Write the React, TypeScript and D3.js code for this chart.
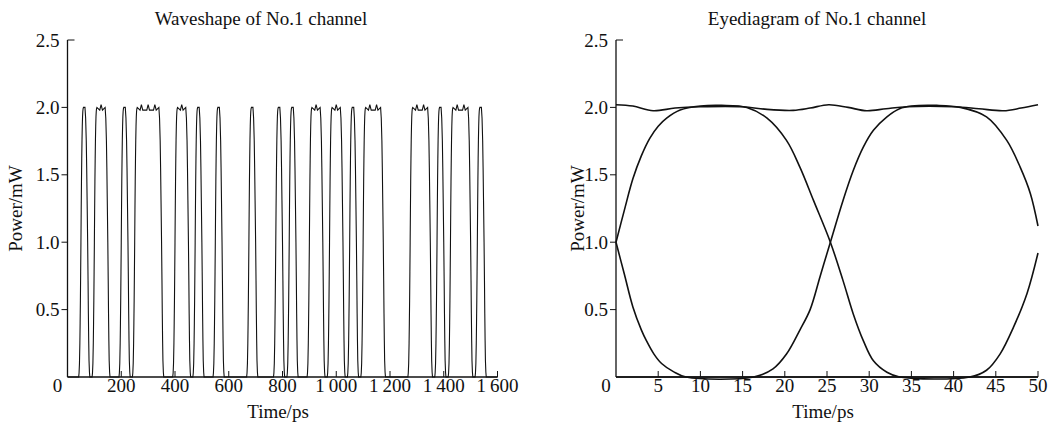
import React from "react";
import * as d3 from "d3";

// channel 1 bit pattern, 25 ps per bit
const bits = [
  0, 0, 1, 0, 1, 1, 0, 0,
  1, 0, 1, 1, 1, 1, 0, 0,
  1, 1, 0, 1, 0, 0, 1, 0,
  0, 0, 0, 1, 0, 0, 0, 1,
  0, 1, 0, 0, 1, 1, 0, 1,
  1, 0, 1, 0, 1, 1, 1, 0,
  0, 0, 0, 1, 1, 1, 0, 1,
  0, 1, 1, 1, 0, 1, 0, 0,
];
const bitPs = 25;

// edge shapes (ps from the bit boundary, mW)
const riseEdge = [[-8.5, 0], [-7, 0.03], [-5.5, 0.1], [-4, 0.25], [-3, 0.4], [-2, 0.57], [-1, 0.78], [0, 1], [1, 1.24], [2, 1.45], [3, 1.62], [4, 1.76], [5, 1.86], [6, 1.93], [7, 1.97], [8, 1.99], [9.5, 2.0]];
const fallEdge = [[-10, 2.0], [-7.5, 1.92], [-5.2, 1.755], [-3.6, 1.555], [-2, 1.31], [0, 1], [1.5, 0.715], [2.7, 0.47], [3.9, 0.27], [5.1, 0.12], [6.7, 0.035], [8.2, 0]];
const highRipple = [[-5, 1.98], [0, 2.02], [5, 1.98]];

// eye diagram traces (ps, mW)
const eyeA = [[0, 1], [1, 1.24], [2, 1.47], [3, 1.64], [4, 1.77], [5, 1.86], [6, 1.92], [7.6, 1.98], [10, 2.01], [12.5, 2.015], [15.5, 2.0], [17.9, 1.92], [20.2, 1.755], [21.8, 1.555], [23.4, 1.31], [25.4, 1.0], [26.9, 0.715], [28.1, 0.47], [29.3, 0.27], [30.5, 0.12], [32.1, 0.035], [33.6, 0], [41.9, 0], [43.9, 0.05], [45.5, 0.17], [47.1, 0.37], [48.7, 0.62], [50, 0.92]];
const eyeB = [[0, 1], [1, 0.76], [2, 0.52], [3, 0.35], [3.6, 0.27], [4.5, 0.17], [5.4, 0.1], [6.8, 0.04], [8.3, 0], [16.3, 0], [18.6, 0.06], [20.2, 0.17], [21.8, 0.35], [23, 0.5], [24.2, 0.75], [25.4, 1.0], [26.9, 1.31], [28.1, 1.53], [29.3, 1.705], [30.5, 1.83], [32.1, 1.93], [33.6, 1.99], [35, 2.01], [38, 2.015], [40.8, 2.0], [43.9, 1.93], [46.3, 1.755], [47.9, 1.555], [49.1, 1.36], [50, 1.12]];
const eyeTop = [[0, 2.02], [2, 2.01], [4.4, 1.975], [7, 1.995], [10, 2.005], [15, 2.005], [17.9, 1.985], [21, 1.978], [23, 1.995], [25.2, 2.02], [27.5, 2.0], [29.7, 1.975], [32, 1.99], [34.5, 2.005], [40, 2.005], [43, 1.99], [45.9, 1.975], [48, 1.995], [50, 2.02]];
const eyeBottom = [[0, 0], [50, 0]];

const waveTicks = [0, 200, 400, 600, 800, 1000, 1200, 1400, 1600];
const eyeTicks = [0, 5, 10, 15, 20, 25, 30, 35, 40, 45, 50];
const powerTicks = [0.5, 1.0, 1.5, 2.0, 2.5];

const font = "'Liberation Serif', 'Times New Roman', serif";
const fs = 19;

// build the time trace from the bits and the edge shapes
function buildWave() {
  const pts: number[][] = [[0, bits[0] ? 2 : 0]];
  for (let k = 1; k < bits.length; k++) {
    const t0 = k * bitPs;
    const a = bits[k - 1], b = bits[k];
    let shape: number[][] = [];
    if (!a && b) shape = riseEdge;
    else if (a && !b) shape = fallEdge;
    else if (a && b) shape = highRipple;
    shape.forEach(([dt, v]) => pts.push([t0 + dt, v]));
  }
  pts.push([bits.length * bitPs, bits[bits.length - 1] ? 2 : 0]);
  return pts;
}

const yScale = d3.scaleLinear().domain([0, 2.5]).range([377, 40]);
const fmt = (d: number) => (d >= 1000 ? d3.format(",")(d).replace(",", "\u2009") : String(d));

function Panel(props: {
  x: d3.ScaleLinear<number, number>;
  ticks: number[];
  title: string;
  titleX: number;
  labelX: number;
  xLabelX: number;
  children: React.ReactNode;
}) {
  const { x, ticks, title, titleX, labelX, xLabelX } = props;
  const [x0, x1] = x.range();
  const y0 = yScale(0), yTopPx = yScale(2.5);
  return (
    <g fontFamily={font} fontSize={fs} fill="#111">
      <text x={titleX} y={25} textAnchor="middle">{title}</text>
      <text transform={`translate(${labelX},${(y0 + yTopPx) / 2}) rotate(-90)`} textAnchor="middle">Power/mW</text>
      <text x={xLabelX} y={418} textAnchor="middle">Time/ps</text>
      {props.children}
      <line x1={x0} x2={x0} y1={yTopPx} y2={y0} stroke="#111" strokeWidth={1.3} />
      <line x1={x0} x2={x1} y1={y0} y2={y0} stroke="#111" strokeWidth={1.6} />
      {powerTicks.map((p) => (
        <g key={p}>
          <line x1={p === 2.5 ? x0 : x0 - 6} x2={p === 2.5 ? x0 + 7 : x0} y1={yScale(p)} y2={yScale(p)} stroke="#111" strokeWidth={1} />
          <text x={x0 - 8} y={yScale(p)} dy="0.35em" textAnchor="end">{p.toFixed(1)}</text>
        </g>
      ))}
      {ticks.map((t, i) => (
        <g key={t}>
          {i > 0 && <line x1={x(t)} x2={x(t)} y1={y0} y2={y0 - 6} stroke="#111" strokeWidth={1} />}
          <text x={i === 0 ? x(t) - 10 : x(t)} y={392} textAnchor="middle">{fmt(t)}</text>
        </g>
      ))}
    </g>
  );
}

export default function App() {
  const xw = d3.scaleLinear().domain([0, 1600]).range([67.5, 497.5]);
  const xe = d3.scaleLinear().domain([0, 50]).range([616, 1038]);
  const waveLine = d3.line<number[]>().x((d) => xw(d[0])).y((d) => yScale(d[1]));
  const eyeLine = d3.line<number[]>().x((d) => xe(d[0])).y((d) => yScale(d[1])).curve(d3.curveCatmullRom);
  const wave = buildWave();
  return (
    <svg width={1058} height={428} style={{ position: "absolute", left: 0, top: 0, background: "#fff" }}>
      <Panel x={xw} ticks={waveTicks} title="Waveshape of No.1 channel" titleX={261} labelX={22} xLabelX={278}>
        <path d={waveLine(wave) || ""} fill="none" stroke="#111" strokeWidth={1.1} />
      </Panel>
      <Panel x={xe} ticks={eyeTicks} title="Eyediagram of No.1 channel" titleX={817} labelX={584} xLabelX={823}>
        {[eyeA, eyeB, eyeTop, eyeBottom].map((c, i) => (
          <path key={i} d={eyeLine(c) || ""} fill="none" stroke="#111" strokeWidth={1.6} />
        ))}
      </Panel>
    </svg>
  );
}
